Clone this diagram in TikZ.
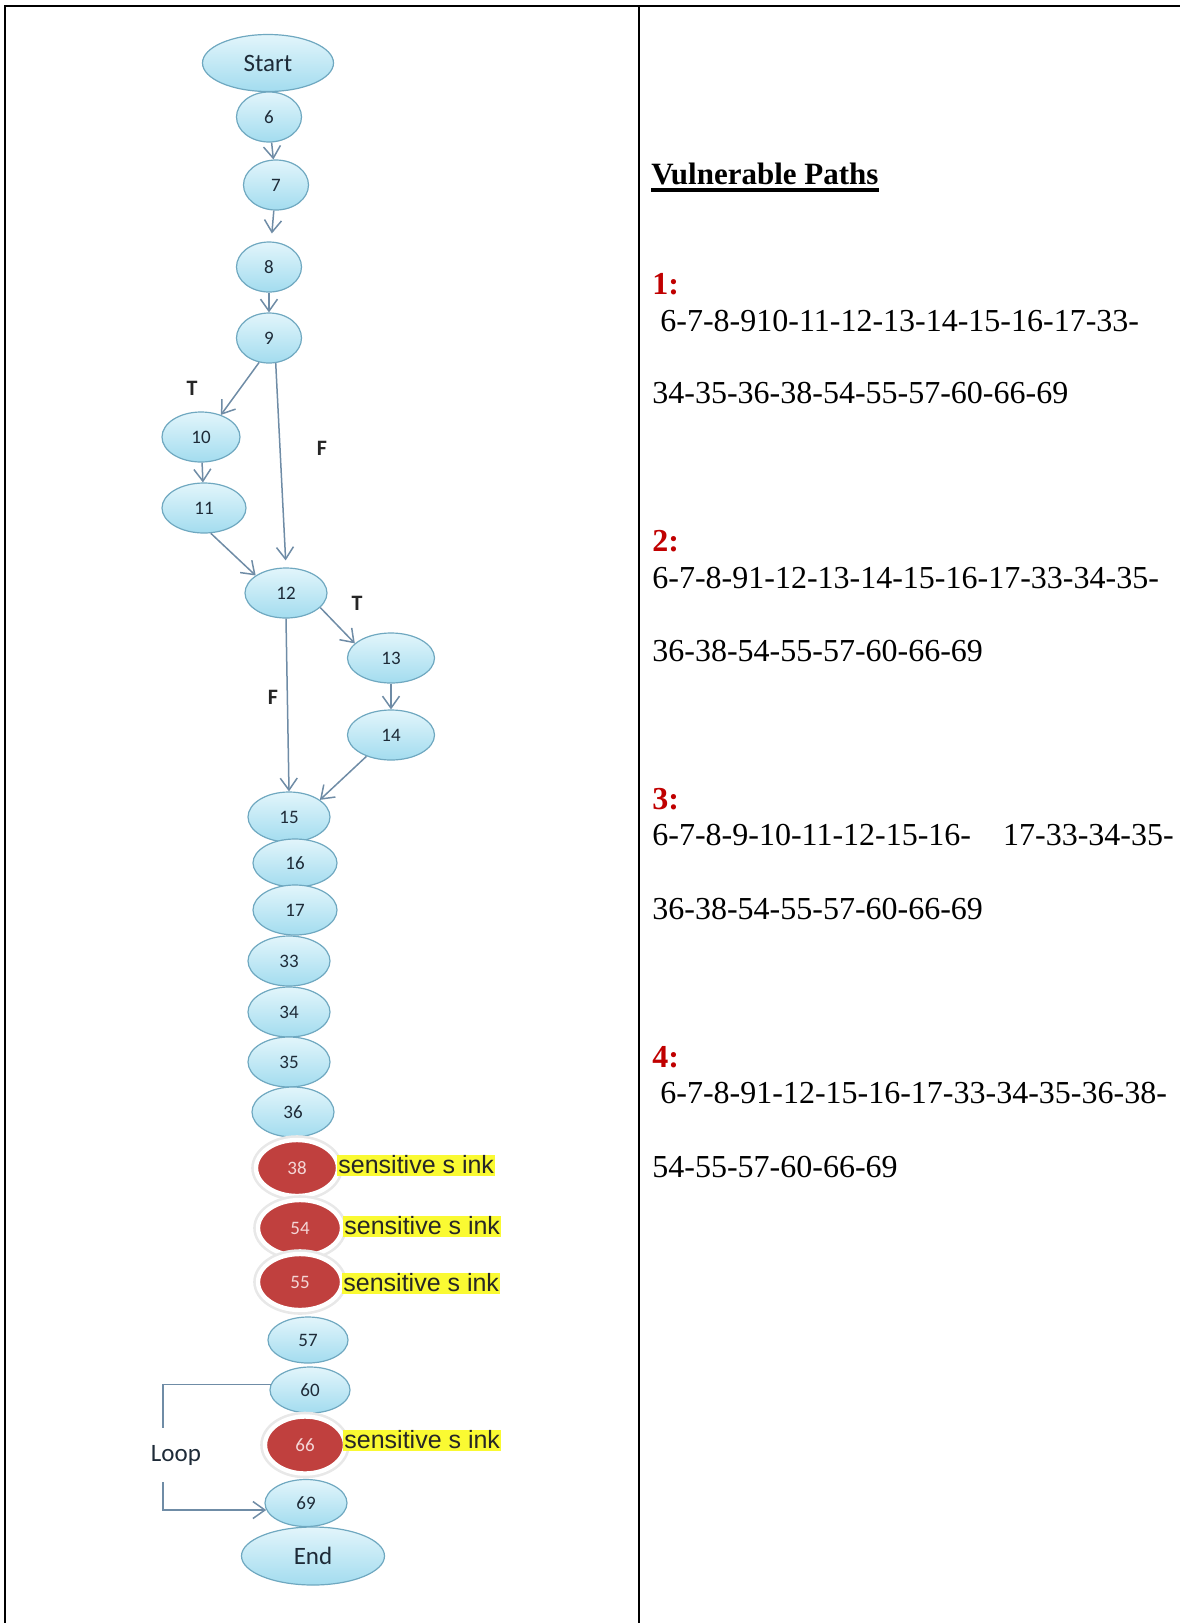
\documentclass[tikz,border=0pt]{standalone}
\usepackage{fontspec}
\setmainfont{Liberation Serif}
\setsansfont{Carlito}
\newfontfamily\arialfont{Liberation Sans}
\usetikzlibrary{arrows.meta,shapes.geometric}
\definecolor{nodetop}{HTML}{E2F5FB}
\definecolor{nodebot}{HTML}{A3DCEF}
\definecolor{nodeline}{HTML}{6FA8C0}
\definecolor{sinkred}{HTML}{C0403E}
\definecolor{sinktxt}{HTML}{F4D6D6}
\definecolor{edgeblue}{HTML}{6F8CA6}
\definecolor{inkdark}{HTML}{1E2B38}
\definecolor{marker}{HTML}{FAFA32}
\definecolor{pathred}{HTML}{C00000}

\tikzset{
  blk/.style={ellipse, draw=nodeline, line width=0.6pt, top color=nodetop, bottom color=nodebot,
    inner sep=0pt, minimum width=41pt, minimum height=25pt, text=inkdark,
    font=\sffamily\fontsize{9.5}{10}\selectfont},
  endpt/.style={blk, font=\sffamily\fontsize{12.5}{14}\selectfont},
  sink/.style={ellipse, fill=sinkred, draw=white, line width=2.2pt, inner sep=0pt,
    minimum width=41pt, minimum height=28pt, text=sinktxt,
    preaction={draw=black!9, line width=4.8pt},
    font=\sffamily\fontsize{9.5}{10}\selectfont},
  flowline/.style={draw=edgeblue, line width=0.75pt, -{Straight Barb[length=6pt,width=8.5pt]}},
  tf/.style={font=\sffamily\bfseries\fontsize{11}{12}\selectfont, text=black!85},
  hl/.style={fill=marker, anchor=west, inner xsep=0.5pt, inner ysep=0pt, text height=9.5pt,
    text depth=1pt, text=black!85, font=\arialfont\fontsize{12.5}{14}\selectfont},
  pathtxt/.style={anchor=base west, inner sep=0pt, font=\fontsize{16}{19}\selectfont},
  pathno/.style={pathtxt, text=pathred, font=\bfseries\fontsize{16}{19}\selectfont},
}

\begin{document}
\begin{tikzpicture}[x=0.5pt, y=-0.5pt]
  \useasboundingbox (0,0) rectangle (1180,1623);
  % frame of the two cells
  \draw[line width=1.2pt] (5,1623) |- (1180,6);
  \draw[line width=1.2pt] (639,6) -- (639,1623);

  % control flow graph
  \node[endpt, minimum width=65.5pt, minimum height=28.5pt] (start) at (268,63) {Start};
  \node[blk, minimum width=32.5pt] (n6) at (269,117) {6};
  \node[blk, minimum width=32.5pt] (n7) at (276,185) {7};
  \node[blk, minimum width=32.5pt] (n8) at (269,267) {8};
  \node[blk, minimum width=32.5pt] (n9) at (269,338) {9};
  \node[blk, minimum width=39pt] (n10) at (201,437) {10};
  \node[blk, minimum width=42pt] (n11) at (204,508) {11};
  \node[blk] (n12) at (286,593) {12};
  \node[blk, minimum width=43.5pt] (n13) at (391,658) {13};
  \node[blk, minimum width=43.5pt] (n14) at (391,735) {14};
  \node[blk] (n15) at (289,817) {15};
  \node[blk, minimum width=42pt, minimum height=24pt] (n16) at (295,863) {16};
  \node[blk, minimum width=42pt] (n17) at (295,910) {17};
  \node[blk] (n33) at (289,961) {33};
  \node[blk] (n34) at (289,1012) {34};
  \node[blk] (n35) at (289,1062) {35};
  \node[blk] (n36) at (293,1112) {36};
  \node[sink] (n38) at (297,1168) {38};
  \node[sink, minimum width=42pt] (n54) at (300,1228) {54};
  \node[sink, minimum width=42pt] (n55) at (300,1282) {55};
  \node[blk, minimum width=40pt, minimum height=23pt] (n57) at (308,1340) {57};
  \node[blk, minimum width=40pt, minimum height=23pt] (n60) at (310,1390) {60};
  \node[sink, minimum width=40pt, minimum height=28.5pt] (n66) at (305,1445) {66};
  \node[blk, minimum height=23.5pt] (n69) at (306,1503) {69};
  \node[endpt, minimum width=71.5pt, minimum height=29pt] (stop) at (313,1556) {End};

  % sink markers
  \node[hl] (s38) at (337,1165) {sensitive s ink};
  \node[hl] (s54) at (343,1226) {sensitive s ink};
  \node[hl] (s55) at (342,1283) {sensitive s ink};
  \node[hl] (s66) at (343,1440) {sensitive s ink};

  % edges
  \draw[flowline] (n6) -- (n7);
  \draw[flowline, shorten >=4pt] (n7) -- (n8);
  \draw[flowline] (n8) -- (n9);
  \draw[flowline] (n9.248) -- (n10.48);
  \draw[flowline, shorten >=3.5pt] (n9.-75) -- (n12.north);
  \draw[flowline] (n10) -- (n11);
  \draw[flowline] (n11.-75) -- (n12.150);
  \draw[flowline] (n12.-23) -- (n13.158);
  \draw[flowline] (n12.south) -- (n15.north);
  \draw[flowline] (n13) -- (n14);
  \draw[flowline] (n14.221) -- (n15.29);

  \node[tf] (t9) at (192,388) {T};
  \node[tf] (f9) at (322,448) {F};
  \node[tf] (t12) at (357,603) {T};
  \node[tf] (f12) at (273,697) {F};

  % loop back edge
  \node[inner sep=0pt, minimum height=27pt, text=inkdark,
        font=\sffamily\fontsize{12.5}{14}\selectfont] (loop) at (176,1455) {Loop};
  \coordinate (lpx) at (163,0);
  \draw[draw=edgeblue, line width=0.75pt] (n60.172) -| (lpx |- loop.north);
  \draw[flowline] (lpx |- loop.south) |- (n69.190);

  % path listing
  \node[pathtxt, font=\bfseries\fontsize{15.5}{18}\selectfont] (ttl) at (651,184) {Vulnerable Paths};
  \draw[line width=1.6pt] ([yshift=-3pt]ttl.base west) -- ([yshift=-3pt]ttl.base east);

  \node[pathno] (p1) at (652,294) {1:};
  \node[pathtxt] (p1a) at (660,331) {6-7-8-910-11-12-13-14-15-16-17-33-};
  \node[pathtxt] (p1b) at (652,403) {34-35-36-38-54-55-57-60-66-69};

  \node[pathno] (p2) at (652,551) {2:};
  \node[pathtxt] (p2a) at (652,588) {6-7-8-91-12-13-14-15-16-17-33-34-35-};
  \node[pathtxt] (p2b) at (652,661) {36-38-54-55-57-60-66-69};

  \node[pathno] (p3) at (652,809) {3:};
  \node[pathtxt] (p3a) at (652,845) {6-7-8-9-10-11-12-15-16-\quad17-33-34-35-};
  \node[pathtxt] (p3b) at (652,919) {36-38-54-55-57-60-66-69};

  \node[pathno] (p4) at (652,1067) {4:};
  \node[pathtxt] (p4a) at (660,1103) {6-7-8-91-12-15-16-17-33-34-35-36-38-};
  \node[pathtxt] (p4b) at (652,1177) {54-55-57-60-66-69};
\end{tikzpicture}
\end{document}
